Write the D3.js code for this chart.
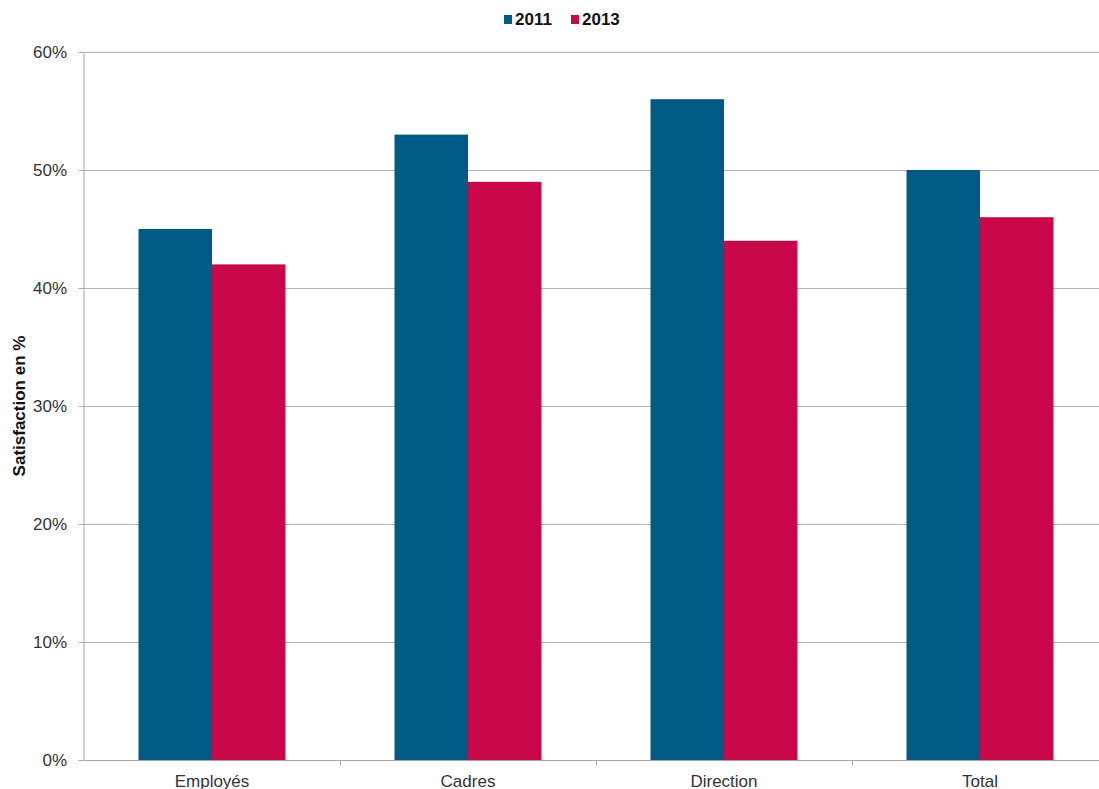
<!DOCTYPE html>
<html>
<head>
<meta charset="utf-8">
<script src="https://cdn.jsdelivr.net/npm/d3@7"></script>
<style>
  body { margin: 0; background: #fff; }
  svg { font-family: "Liberation Sans", Arial, sans-serif; }
  .axis text { font-size: 17px; fill: #333; }
  .axis path, .axis line { stroke: #a6a6a6; }
</style>
</head>
<body>
<svg id="chart"></svg>
<script>
const categories = ['Employés', 'Cadres', 'Direction', 'Total'];
const years = ['2011', '2013'];
const values2011 = [45, 53, 56, 50];
const values2013 = [42, 49, 44, 46];
const yTicks = [0, 10, 20, 30, 40, 50, 60];
const colors = ['#005a86', '#c8084a'];

const config = {
  containerWidth: 1099,
  containerHeight: 789,
  margin: {top: 52, right: -9, bottom: 29, left: 84}
};

const width = config.containerWidth - config.margin.left - config.margin.right;
const height = config.containerHeight - config.margin.top - config.margin.bottom;

const data = categories.map((c, i) => ({
  category: c,
  values: [values2011[i], values2013[i]]
}));

const svg = d3.select('#chart')
  .attr('width', config.containerWidth)
  .attr('height', config.containerHeight);

const chart = svg.append('g')
  .attr('transform', `translate(${config.margin.left},${config.margin.top})`);

// Scales
const yScale = d3.scaleLinear().domain([0, 60]).range([height, 0]);
const xScale = d3.scaleBand().domain(categories).range([0, width]);
const xInner = d3.scaleBand().domain(years)
  .range([54.5, xScale.bandwidth() - 54.5]);

// Gridlines
chart.append('g')
  .selectAll('line')
  .data(yTicks.filter(d => d > 0))
  .join('line')
  .attr('x1', 0)
  .attr('x2', width)
  .attr('y1', d => Math.round(yScale(d)) + 0.5)
  .attr('y2', d => Math.round(yScale(d)) + 0.5)
  .attr('stroke', '#b3b3b3')
  .attr('stroke-width', 1);

// Bars
const groups = chart.selectAll('.group')
  .data(data)
  .join('g')
  .attr('class', 'group')
  .attr('transform', d => `translate(${xScale(d.category)},0)`);

groups.selectAll('rect')
  .data(d => d.values.map((v, i) => ({year: years[i], value: v, i})))
  .join('rect')
  .attr('x', d => xInner(d.year))
  .attr('width', xInner.bandwidth())
  .attr('y', d => yScale(d.value))
  .attr('height', d => height - yScale(d.value))
  .attr('fill', d => colors[d.i]);

// Y axis
const yAxis = d3.axisLeft(yScale)
  .tickValues(yTicks)
  .tickFormat(d => d + '%')
  .tickSize(5)
  .tickPadding(11.5)
  .tickSizeOuter(0);

chart.append('g')
  .attr('class', 'axis y-axis')
  .attr('transform', 'translate(-0.5,0)')
  .call(yAxis);

// X axis (ticks between categories)
const xAxisG = chart.append('g')
  .attr('class', 'axis x-axis')
  .attr('transform', `translate(0,${height + 0.5})`);

xAxisG.append('line')
  .attr('x1', 0).attr('x2', width)
  .attr('stroke', '#a6a6a6');

xAxisG.selectAll('.sep')
  .data(categories.slice(1))
  .join('line')
  .attr('class', 'sep')
  .attr('x1', d => Math.round(xScale(d)) + 0.5)
  .attr('x2', d => Math.round(xScale(d)) + 0.5)
  .attr('y1', 0).attr('y2', 5)
  .attr('stroke', '#a6a6a6');

xAxisG.selectAll('.label')
  .data(categories)
  .join('text')
  .attr('class', 'label')
  .attr('x', d => xScale(d) + xScale.bandwidth() / 2)
  .attr('y', 26)
  .attr('text-anchor', 'middle')
  .text(d => d);

// Y axis title
svg.append('text')
  .attr('transform', `translate(25,${config.margin.top + height / 2}) rotate(-90)`)
  .attr('text-anchor', 'middle')
  .style('font-size', '17px')
  .style('font-weight', 'bold')
  .attr('fill', '#111')
  .text('Satisfaction en %');

// Legend
const legend = svg.append('g').attr('transform', 'translate(504,25)');
const legendX = [0, 67];
years.forEach((y, i) => {
  const item = legend.append('g').attr('transform', `translate(${legendX[i]},0)`);
  item.append('rect')
    .attr('x', 0).attr('y', -10)
    .attr('width', 8).attr('height', 9)
    .attr('fill', colors[i]);
  item.append('text')
    .attr('x', 11).attr('y', 0)
    .style('font-size', '17px')
    .style('font-weight', 'bold')
    .attr('fill', '#111')
    .text(y);
});
</script>
</body>
</html>
